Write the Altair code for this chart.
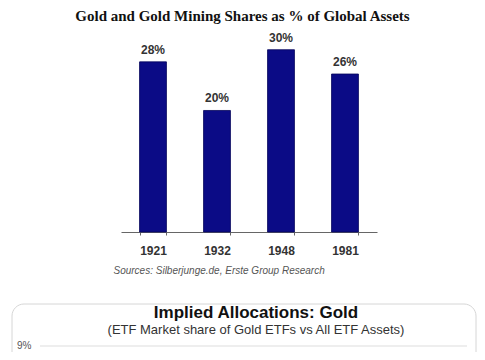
import altair as alt
import pandas as pd

years = ["1921", "1932", "1948", "1981"]
shares = [28, 20, 30, 26]
labels = ["28%", "20%", "30%", "26%"]

title_text = "Gold and Gold Mining Shares as % of Global Assets"
source_text = "Sources: Silberjunge.de, Erste Group Research"
sub_title = "Implied Allocations: Gold"
sub_subtitle = "(ETF Market share of Gold ETFs vs All ETF Assets)"
sub_tick = "9%"

df = pd.DataFrame({"year": years, "share": shares, "label": labels})

W, H = 469, 192

xscale = alt.Scale(range=[113, 369], paddingInner=0.58, paddingOuter=0.29)
yscale = alt.Scale(domain=[0, 31.6], nice=False)

x_enc = alt.X(
    "year:N",
    sort=years,
    scale=xscale,
    axis=alt.Axis(
        title=source_text,
        titleFont="Liberation Sans",
        titleFontStyle="italic",
        titleFontWeight="normal",
        titleFontSize=10,
        titleColor="#555555",
        titleAnchor="start",
        titleAlign="left",
        titleX=105,
        titleY=38,
        titleBaseline="middle",
        labelAngle=0,
        labelFont="Liberation Sans",
        labelFontWeight="bold",
        labelFontSize=12,
        labelColor="#333333",
        labelPadding=10,
        tickBand="extent",
        tickSize=3,
        tickColor="#666666",
        domainColor="#666666",
        domainWidth=1.2,
        grid=False,
    ),
)

bars = alt.Chart(df).mark_bar(color="#0b0b86", stroke="#05055a", strokeWidth=0.8).encode(
    x=x_enc,
    y=alt.Y("share:Q", scale=yscale, axis=None),
)

vals = alt.Chart(df).mark_text(
    dy=-5, baseline="bottom", font="Liberation Sans", fontWeight="bold", fontSize=12, color="#333333"
).encode(
    x=alt.X("year:N", sort=years, scale=xscale),
    y=alt.Y("share:Q", scale=yscale),
    text="label:N",
)

box = alt.Chart(pd.DataFrame({"a": [0]})).mark_rect(
    fill="white", stroke="#d6d6d6", strokeWidth=1, cornerRadius=12
).encode(x=alt.value(4), x2=alt.value(468), y=alt.value(264), y2=alt.value(360))

t1 = alt.Chart(pd.DataFrame({"t": [sub_title]})).mark_text(
    font="Liberation Sans", fontWeight="bold", fontSize=17, color="#111111", baseline="middle"
).encode(x=alt.value(248), y=alt.value(273), text="t:N")

t2 = alt.Chart(pd.DataFrame({"t": [sub_subtitle]})).mark_text(
    font="Liberation Sans", fontSize=13, color="#333333", baseline="middle"
).encode(x=alt.value(248), y=alt.value(290), text="t:N")

t3 = alt.Chart(pd.DataFrame({"t": [sub_tick]})).mark_text(
    font="Liberation Sans", fontSize=10, color="#555555", baseline="middle", align="left"
).encode(x=alt.value(9), y=alt.value(306), text="t:N")

grid = alt.Chart(pd.DataFrame({"a": [0]})).mark_rule(color="#dddddd", strokeWidth=1).encode(
    x=alt.value(32), x2=alt.value(459), y=alt.value(306)
)

chart = alt.layer(bars, vals, box, t1, t2, t3, grid).properties(
    width=W,
    height=H,
    background="white",
    autosize=alt.AutoSizeParams(type="none"),
    padding={"left": 0, "top": 32, "right": 0, "bottom": 120},
    title=alt.TitleParams(
        text=title_text,
        font="Liberation Serif",
        fontWeight="bold",
        fontSize=15,
        color="#111111",
        anchor="middle",
        frame="group",
        offset=8,
    ),
).configure_view(stroke=None)

chart.save("out.html", embed_options={"renderer": "svg", "actions": False})
